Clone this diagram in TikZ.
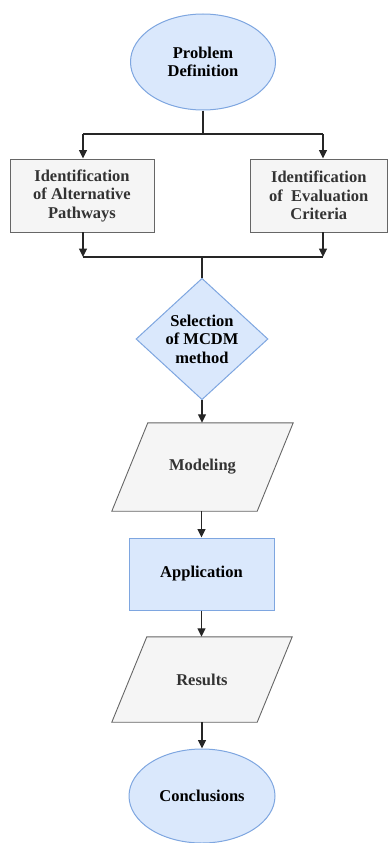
\documentclass[tikz,border=0pt]{standalone}
\usepackage{fontspec}
\setmainfont{Liberation Serif}
\newfontfamily\labelfont{Liberation Serif}[BoldFont={Liberation Serif Bold}]
\usetikzlibrary{shapes.geometric,arrows.meta,backgrounds}
\definecolor{bluefill}{HTML}{DAE8FC}
\definecolor{blueline}{HTML}{7EA6E0}
\definecolor{grayfill}{HTML}{F5F5F5}
\definecolor{grayline}{HTML}{666666}
\definecolor{graytext}{HTML}{333333}
\begin{document}
\begin{tikzpicture}[x=1pt,y=-1pt,
  every node/.style={font=\labelfont\fontsize{16.5}{18.5}\selectfont\bfseries, align=center, inner sep=0pt},
  bluebox/.style={fill=bluefill, draw=blueline, line width=1pt, text=black},
  graybox/.style={fill=grayfill, draw=grayline, line width=0.9pt, text=graytext},
  flow/.style={line width=1.3pt, draw=black!85},
  arr/.style={flow, -{Triangle[width=8pt,length=8.5pt]}},
]
\useasboundingbox (0,0) rectangle (388,843);

% start / end ellipses
\node (prob) [bluebox, ellipse, minimum width=145pt, minimum height=96pt] at (203,62) {Problem\\Definition};
\node (conc) [bluebox, ellipse, minimum width=146pt, minimum height=94pt] at (202,796) {Conclusions};

% two parallel identification steps
\node (alt) [graybox, rectangle, minimum width=144pt, minimum height=73pt] at (82,195.5) {Identification\\of Alternative\\Pathways};
\node (crit) [graybox, rectangle, minimum width=137pt, minimum height=73pt] at (318.75,195.5) {Identification\\of\ \ Evaluation\\Criteria};

% decision
\node (sel) [bluebox, diamond, minimum width=132pt, minimum height=121pt] at (202,339) {Selection\\of MCDM\\method};

% modelling and application
\node (model) [rectangle, minimum width=145pt, minimum height=88pt, text=graytext] at (202.5,467) {Modeling};
\node (app) [bluebox, rectangle, minimum width=145pt, minimum height=72pt] at (201.5,574) {Application};
\node (res) [rectangle, minimum width=145pt, minimum height=85pt, text=graytext] at (202,679.5) {Results};

\begin{scope}[on background layer]
  \draw[graybox] ([xshift=-18pt]model.south west) -- ([xshift=-18pt]model.south east)
    -- ([xshift=18pt]model.north east) -- ([xshift=18pt]model.north west) -- cycle;
  \draw[graybox] ([xshift=-17.5pt]res.south west) -- ([xshift=-17.5pt]res.south east)
    -- ([xshift=17.5pt]res.north east) -- ([xshift=17.5pt]res.north west) -- cycle;
\end{scope}

% split and merge bars
\coordinate (tm) at (203,134);
\coordinate (tl) at (83,134);
\coordinate (tr) at (323,134);
\coordinate (bm) at (202,257);
\coordinate (bl) at (83,257);
\coordinate (br) at (323,257);

\draw[flow] (prob.south) -- (tm);
\draw[flow] (tl) -- (tr);
\draw[arr] (tl) -- (tl |- alt.north);
\draw[arr] (tr) -- (tr |- crit.north);
\draw[arr] (bl |- alt.south) -- (bl);
\draw[arr] (br |- crit.south) -- (br);
\draw[flow] (bl) -- (br);
\draw[flow] (bm) -- (sel.north);

% main sequence
\draw[arr] (sel.south) -- (sel.south |- model.north);
\draw[arr] (model.south -| app.north) -- (app.north);
\draw[arr] (app.south) -- (app.south |- res.north);
\draw[arr] (res.south -| conc.north) -- (conc.north);
\end{tikzpicture}
\end{document}
